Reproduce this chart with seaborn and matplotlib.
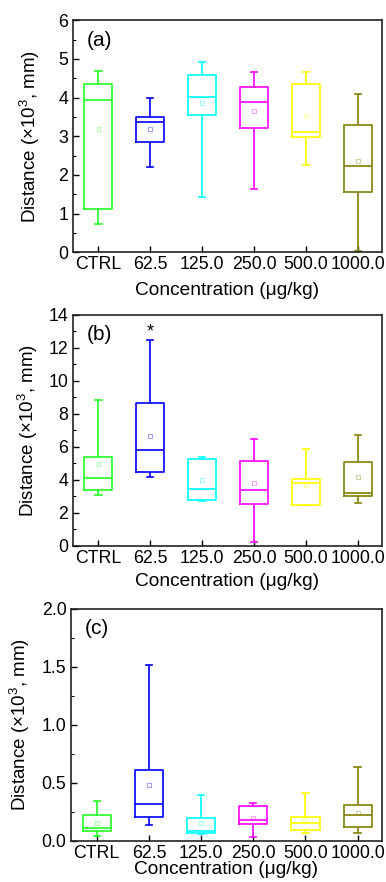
import numpy as np
import pandas as pd
import seaborn as sns
import matplotlib
matplotlib.use("Agg")
import matplotlib.pyplot as plt
from matplotlib.ticker import MultipleLocator, FormatStrFormatter

## data: min, Q1, median, Q3, max, mean (x10^3 mm)
groups = ["CTRL", "62.5", "125.0", "250.0", "500.0", "1000.0"]
colors = ["#22ff22", "#0000ff", "#00ffff", "#ff00ff", "#ffff00", "#808000"]

a_min = [0.74, 2.20, 1.42, 1.64, 2.26, 0.03]
a_q1 = [1.13, 2.85, 3.56, 3.22, 2.97, 1.57]
a_med = [3.94, 3.37, 4.02, 3.88, 3.12, 2.23]
a_q3 = [4.35, 3.50, 4.59, 4.28, 4.35, 3.28]
a_max = [4.69, 3.99, 4.92, 4.66, 4.66, 4.10]
a_mean = [3.20, 3.20, 3.85, 3.66, 3.53, 2.37]

b_min = [3.11, 4.18, 2.73, 0.26, 2.46, 2.61]
b_q1 = [3.37, 4.48, 2.81, 2.53, 2.48, 3.01]
b_med = [4.10, 5.80, 3.47, 3.37, 3.80, 3.23]
b_q3 = [5.37, 8.67, 5.25, 5.17, 4.04, 5.09]
b_max = [8.83, 12.46, 5.41, 6.50, 5.88, 6.75]
b_mean = [4.99, 6.65, 4.00, 3.84, 3.70, 4.16]

c_min = [0.037, 0.135, 0.055, 0.032, 0.069, 0.066]
c_q1 = [0.078, 0.201, 0.066, 0.144, 0.092, 0.115]
c_med = [0.104, 0.319, 0.086, 0.176, 0.155, 0.222]
c_q3 = [0.222, 0.604, 0.196, 0.296, 0.201, 0.305]
c_max = [0.342, 1.51, 0.391, 0.322, 0.414, 0.633]
c_mean = [0.155, 0.475, 0.155, 0.199, 0.176, 0.239]

plt.rcParams["font.family"] = ["Liberation Sans", "DejaVu Sans"]
plt.rcParams["mathtext.fontset"] = "custom"
plt.rcParams["mathtext.rm"] = "Liberation Sans"


def make_df(mins, q1s, meds, q3s, maxs):
    # five points per group -> seaborn quartiles/whiskers (whis=(0,100)) hit the read values
    rows = []
    for g, vals in zip(groups, zip(mins, q1s, meds, q3s, maxs)):
        for v in vals:
            rows.append({"conc": g, "dist": v})
    return pd.DataFrame(rows)


panels = [
    ("(a)", make_df(a_min, a_q1, a_med, a_q3, a_max), a_mean, 6, 1, 0.5, "%d"),
    ("(b)", make_df(b_min, b_q1, b_med, b_q3, b_max), b_mean, 14, 2, 1, "%d"),
    ("(c)", make_df(c_min, c_q1, c_med, c_q3, c_max), c_mean, 2.0, 0.5, 0.25, "%.1f"),
]

fig = plt.figure(figsize=(3.86, 8.82), dpi=100)
rects = [
    [0.188, 0.714, 0.802, 0.263],
    [0.188, 0.381, 0.802, 0.262],
    [0.183, 0.047, 0.807, 0.263],
]
ylab_x = [-0.099, -0.106, -0.124]
xlab_y = [-0.127, -0.117, -0.088]

for i, (tag, df, means, ymax, major, minor, fmt) in enumerate(panels):
    ax = fig.add_axes(rects[i])
    sns.boxplot(data=df, x="conc", y="dist", hue="conc", palette=colors,
                order=groups, hue_order=groups, fill=False, whis=(0, 100),
                width=0.54, linewidth=1.2, legend=False, showfliers=False,
                capwidths=0.12, ax=ax)
    # mean markers (small hollow squares, pale)
    for k, (m, c) in enumerate(zip(means, colors)):
        ax.scatter(k, m, marker="s", s=8, facecolors="none", edgecolors=c,
                   linewidths=0.6, alpha=0.45, zorder=5)
    ax.set_xlim(-0.5, 5.47)
    ax.set_ylim(0, ymax)
    ax.yaxis.set_major_locator(MultipleLocator(major))
    ax.yaxis.set_minor_locator(MultipleLocator(minor))
    ax.yaxis.set_major_formatter(FormatStrFormatter(fmt))
    ax.tick_params(axis="both", which="major", direction="in", labelsize=12.8,
                   length=4, width=1, pad=3)
    ax.tick_params(axis="y", which="minor", direction="in", length=2.5, width=0.8)
    ax.tick_params(axis="x", which="minor", bottom=False)
    for sp in ax.spines.values():
        sp.set_linewidth(1.2)
        sp.set_color("#222222")
    ax.set_xlabel("Concentration (μg/kg)", fontsize=13.8)
    ax.set_ylabel("Distance (×10$^3$, mm)", fontsize=13.5)
    ax.yaxis.set_label_coords(ylab_x[i], 0.5)
    ax.xaxis.set_label_coords(0.5, xlab_y[i])
    ax.text(0.045, 0.915, tag, transform=ax.transAxes, fontsize=15,
            ha="left", va="center")

# significance mark above 62.5 in (b)
fig.axes[1].text(1, 12.95, "*", ha="center", va="center", fontsize=13)

plt.savefig("out.png", dpi=100)
